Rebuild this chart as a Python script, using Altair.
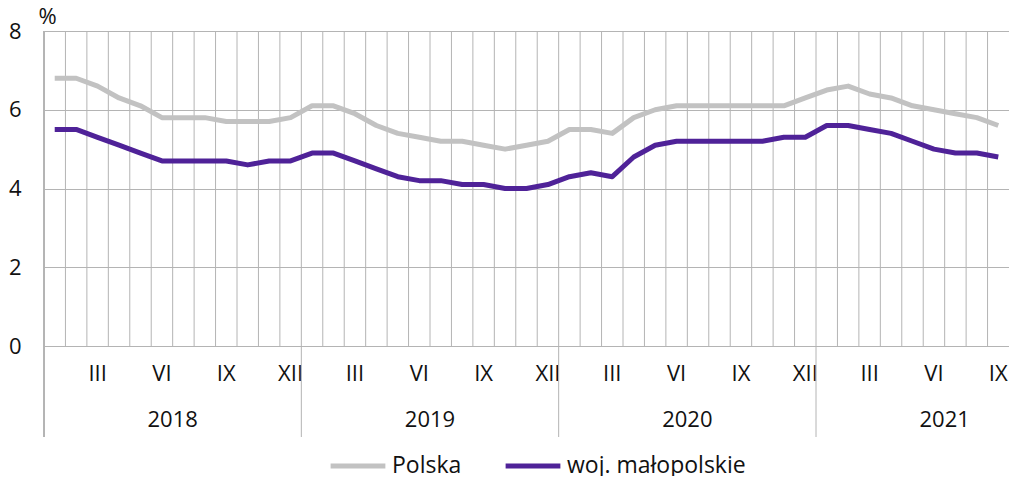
import altair as alt
import pandas as pd

years = ["2018", "2019", "2020", "2021"]
month_nums = list(range(1, 13))
months = [f"{y}-{m:02d}" for y in years for m in month_nums][:45]

polska = [6.8, 6.8, 6.6, 6.3, 6.1, 5.8, 5.8, 5.8, 5.7, 5.7, 5.7, 5.8,
          6.1, 6.1, 5.9, 5.6, 5.4, 5.3, 5.2, 5.2, 5.1, 5.0, 5.1, 5.2,
          5.5, 5.5, 5.4, 5.8, 6.0, 6.1, 6.1, 6.1, 6.1, 6.1, 6.1, 6.3,
          6.5, 6.6, 6.4, 6.3, 6.1, 6.0, 5.9, 5.8, 5.6]
malopolskie = [5.5, 5.5, 5.3, 5.1, 4.9, 4.7, 4.7, 4.7, 4.7, 4.6, 4.7, 4.7,
               4.9, 4.9, 4.7, 4.5, 4.3, 4.2, 4.2, 4.1, 4.1, 4.0, 4.0, 4.1,
               4.3, 4.4, 4.3, 4.8, 5.1, 5.2, 5.2, 5.2, 5.2, 5.2, 5.3, 5.3,
               5.6, 5.6, 5.5, 5.4, 5.2, 5.0, 4.9, 4.9, 4.8]
series_names = ["Polska", "woj. małopolskie"]
series_colors = ["#c2c2c2", "#4f2298"]

FONT = "Open Sans"
FS = 22
W, H = 965, 315

df = pd.DataFrame({
    "month": months * 2,
    "value": polska + malopolskie,
    "series": [series_names[0]] * 45 + [series_names[1]] * 45,
})
mdf = pd.DataFrame({"month": months})
ydf = pd.DataFrame({"month": [f"{y}-07" for y in years], "year": years})
sepdf = pd.DataFrame({"month": [f"{y}-01" for y in years[1:]]})

xscale = alt.Scale(domain=months, paddingInner=0, paddingOuter=0)

label_expr = ("substring(datum.value,5,7)=='03'?'III':"
              "substring(datum.value,5,7)=='06'?'VI':"
              "substring(datum.value,5,7)=='09'?'IX':"
              "substring(datum.value,5,7)=='12'?'XII':''")

xaxis = alt.Axis(title=None, labelExpr=label_expr, labelAngle=0,
                 domain=False, ticks=False, grid=False,
                 labelPadding=17, labelOverlap=False,
                 labelBound=False, labelFlush=False)

vgrid = alt.Chart(mdf).mark_rule(color="#b4b4b4", strokeWidth=1).encode(
    x=alt.X("month:O", scale=xscale, sort=months, bandPosition=0, axis=xaxis),
    y=alt.value(0), y2=alt.value(H),
)

seps = alt.Chart(sepdf).mark_rule(color="#b4b4b4", strokeWidth=1).encode(
    x=alt.X("month:O", scale=xscale, sort=months, bandPosition=0, axis=xaxis),
    y=alt.value(H), y2=alt.value(H + 91),
)

leftline = alt.Chart(mdf).mark_rule(color="#b4b4b4", strokeWidth=1).encode(
    x=alt.value(0), y=alt.value(0), y2=alt.value(H + 91),
)

lines = alt.Chart(df).mark_line(strokeWidth=5, strokeJoin="round").encode(
    x=alt.X("month:O", scale=xscale, sort=months, axis=xaxis),
    y=alt.Y("value:Q", scale=alt.Scale(domain=[0, 8], nice=False),
            axis=alt.Axis(title="%", titleAngle=0, titleX=-6, titleY=-3,
                          titleAlign="left", titleBaseline="bottom",
                          values=[0, 2, 4, 6, 8], domain=False, ticks=False,
                          grid=True, gridColor="#b4b4b4",
                          labelPadding=23)),
    color=alt.Color("series:N", scale=alt.Scale(domain=series_names, range=series_colors),
                    legend=alt.Legend(title=None, orient="none", legendX=284, legendY=405,
                                      direction="horizontal", symbolType="stroke",
                                      symbolStrokeWidth=5, symbolSize=3000,
                                      labelOffset=4, columnPadding=33, labelLimit=400,
                                      labelFontSize=23)),
    order=alt.Order("series:N"),
)

yearlabels = alt.Chart(ydf).mark_text(font=FONT, fontSize=FS, color="#111",
                                      baseline="middle").encode(
    x=alt.X("month:O", scale=xscale, sort=months, bandPosition=0, axis=xaxis),
    y=alt.value(H + 74),
    text="year:N",
)

chart = alt.layer(vgrid, seps, leftline, lines, yearlabels).properties(
    width=W, height=H,
    autosize=alt.AutoSizeParams(type="none"),
    padding={"left": 36, "top": 23, "right": 0, "bottom": 130},
).configure_view(stroke=None).configure_axis(
    labelFont=FONT, labelFontSize=FS, labelColor="#111",
    titleFont=FONT, titleFontSize=FS, titleFontWeight="normal", titleColor="#111",
).configure_legend(
    labelFont=FONT, labelColor="#111",
)

chart.save("out.html", embed_options={"renderer": "svg", "actions": False})
